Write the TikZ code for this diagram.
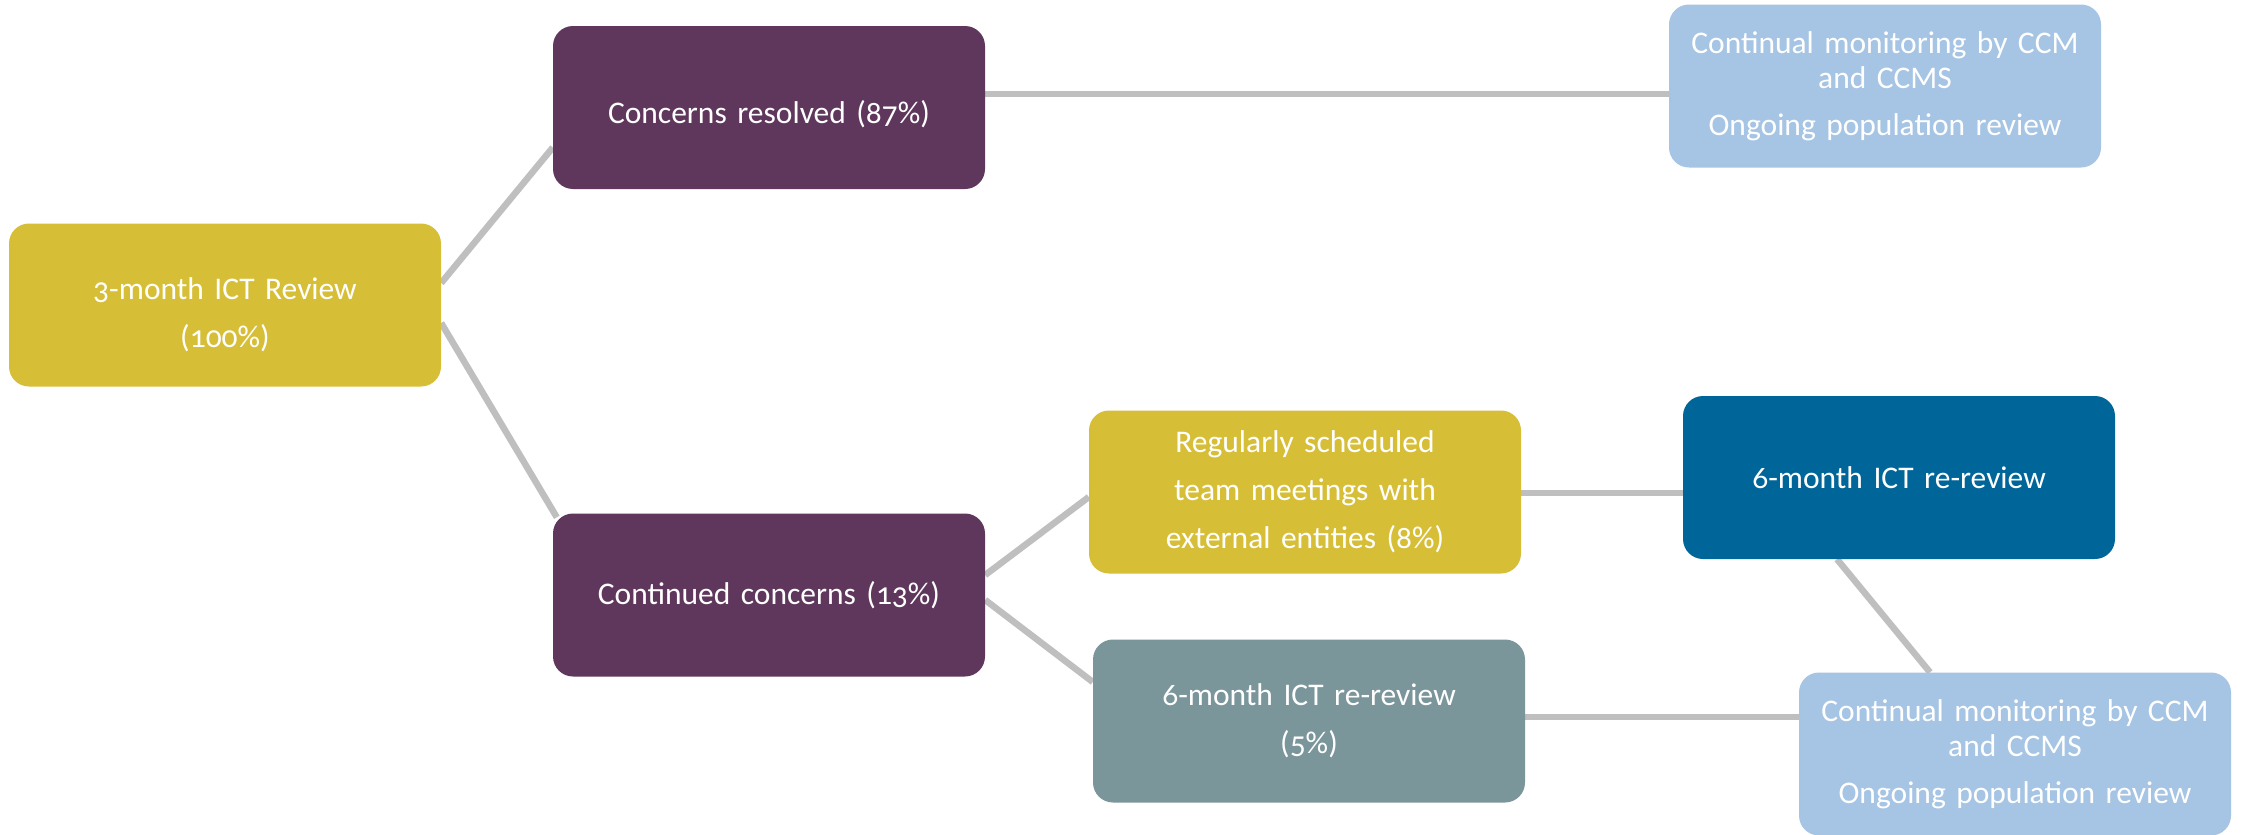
\documentclass[tikz,border=0pt]{standalone}
\usepackage{fontspec}
\setmainfont{Carlito}[Numbers=OldStyle]
\usetikzlibrary{backgrounds}
\definecolor{ochre}{RGB}{215,190,55}
\definecolor{plum}{RGB}{95,55,92}
\definecolor{skyblue}{RGB}{166,196,227}
\definecolor{deepblue}{RGB}{0,102,153}
\definecolor{slateteal}{RGB}{122,150,155}
\definecolor{linkgray}{RGB}{191,191,191}
\begin{document}
\begin{tikzpicture}[x=1pt,y=-1pt,
  box/.style={rounded corners=20pt, minimum width=432pt, minimum height=163pt,
    inner sep=0pt, text=white, align=center, text width=425pt,
    font=\fontsize{31.5}{35}\selectfont},
  link/.style={draw=linkgray, line width=6.5pt}]
\useasboundingbox (0,0) rectangle (2246,835);

\node[box, fill=ochre, text height=42pt] (review) at (225,305) {3-month ICT Review\\[13pt](100\%)};
\node[box, fill=plum, text height=36pt]  (resolved) at (769,107.5) {Concerns resolved (87\%)};
\node[box, fill=skyblue]   (monitorA) at (1885,86)   {Continual monitoring by CCM\\and CCMS\\[12pt]Ongoing population review};
\node[box, fill=plum]      (continued) at (769,595)  {Continued concerns (13\%)};
\node[box, fill=ochre]     (meetings) at (1305,492)  {Regularly scheduled\\[13pt]team meetings with\\[13pt]external entities (8\%)};
\node[box, fill=deepblue]  (rereviewA) at (1899,477.5) {6-month ICT re-review};
\node[box, fill=slateteal] (rereviewB) at (1309,721) {6-month ICT re-review\\[13pt](5\%)};
\node[box, fill=skyblue]   (monitorB) at (2015,754)  {Continual monitoring by CCM\\and CCMS\\[12pt]Ongoing population review};

\begin{scope}[on background layer]
  \fill[white] (0,0) rectangle (2246,835);
  \draw[link] ([yshift=22pt]review.east) -- ([yshift=-40pt]resolved.west);
  \draw[link] ([yshift=-18pt]review.east) -- ([xshift=4pt,yshift=-4pt]continued.north west);
  \draw[link] ([yshift=13.5pt]resolved.east) -- ([yshift=-8pt]monitorA.west);
  \draw[link] ([yshift=20pt]continued.east) -- ([yshift=-5pt]meetings.west);
  \draw[link] ([yshift=-5pt]continued.east) -- ([yshift=39pt]rereviewB.west);
  \draw[link] ([yshift=-1pt]meetings.east) -- ([yshift=-15.5pt]rereviewA.west);
  \draw[link] ([xshift=-62pt]rereviewA.south) -- ([xshift=-85pt]monitorB.north);
  \draw[link] ([yshift=4pt]rereviewB.east) -- ([yshift=37pt]monitorB.west);
\end{scope}
\end{tikzpicture}
\end{document}
